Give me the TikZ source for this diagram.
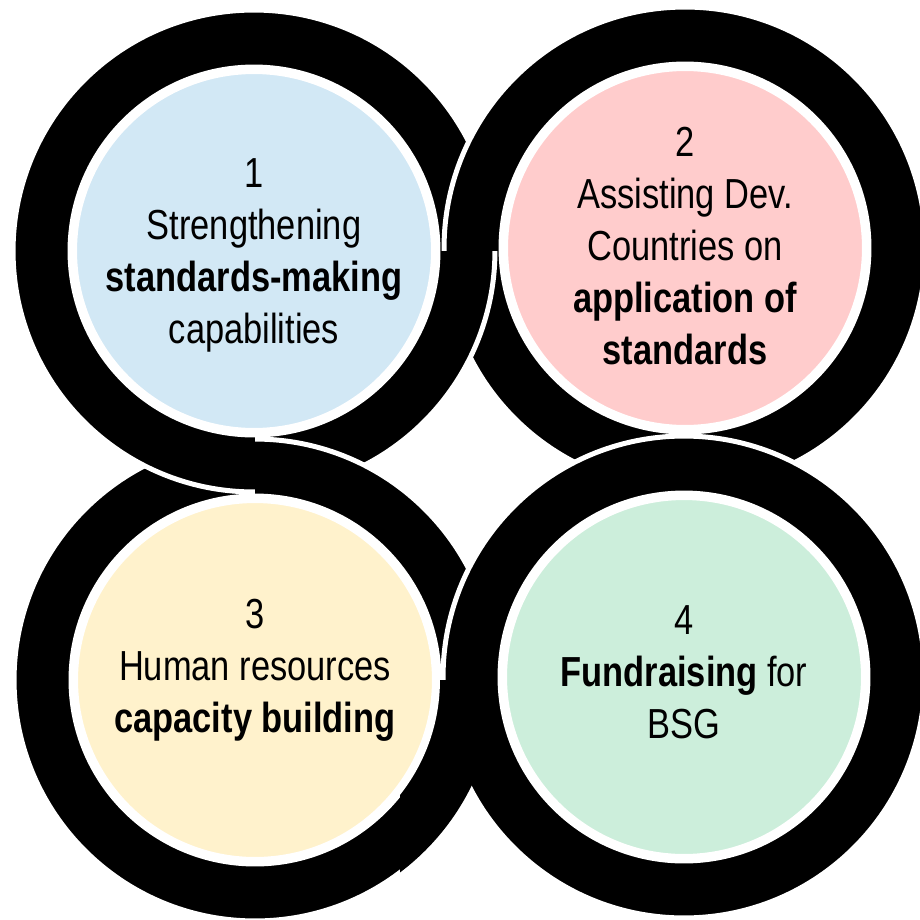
\documentclass[tikz,border=0pt]{standalone}
\usepackage{fontspec}
\setmainfont{Liberation Sans}[FakeStretch=0.82]
\definecolor{blueone}{RGB}{210,232,245}
\definecolor{pinktwo}{RGB}{255,204,204}
\definecolor{yellowthree}{RGB}{255,242,204}
\definecolor{greenfour}{RGB}{204,238,219}

\begin{document}
\begin{tikzpicture}
		[x=0.02cm, y=-0.02cm,
		ring/.style={fill=black, draw=white, line width=0.1cm, even odd rule},
		disc/.style={circle, draw=white, line width=0.16cm, minimum size=7.24cm, inner sep=0pt},
		txt/.style={align=center, font=\fontsize{23.9}{29.6}\selectfont}]
		\useasboundingbox (0,0) rectangle (920,920);
		\coordinate (c1) at (254,251);
		\coordinate (c2) at (685,248);
		\coordinate (c3) at (255,680);
		\coordinate (c4) at (684,677);

		\path[ring] (c3) circle[radius=4.82cm] (c3) circle[radius=3.68cm];
		\path[ring] (c1) circle[radius=4.82cm] (c1) circle[radius=3.68cm];
		\begin{scope}
			\clip (255,380) rectangle (480,560);
			\path[ring] (c3) circle[radius=4.82cm] (c3) circle[radius=3.68cm];
		\end{scope}
		\path[ring] (c2) circle[radius=4.82cm] (c2) circle[radius=3.68cm];
		\begin{scope}
			\clip (400,251) rectangle (520,440);
			\path[ring] (c1) circle[radius=4.82cm] (c1) circle[radius=3.68cm];
		\end{scope}
		\path[ring] (c4) circle[radius=4.82cm] (c4) circle[radius=3.68cm];
		\begin{scope}
			\clip (400,680) rectangle (520,920);
			\fill[even odd rule] (c3) circle[radius=4.82cm] (c3) circle[radius=3.68cm];
		\end{scope}

		\node[disc, fill=blueone] (d1) at (c1) {};
		\node[disc, fill=pinktwo] (d2) at (c2) {};
		\node[disc, fill=yellowthree] (d3) at (c3) {};
		\node[disc, fill=greenfour] (d4) at (c4) {};

		\node[txt] (t1) at ([yshift=-0.08cm]d1) {1\\Strengthening\\\textbf{standards-making}\\capabilities};
		\node[txt] (t2) at ([yshift=0.03cm]d2) {2\\Assisting Dev.\\Countries on\\\textbf{application of}\\\textbf{standards}};
		\node[txt] (t3) at ([yshift=0.2cm]d3) {3\\Human resources\\\textbf{capacity building}};
		\node[txt] (t4) at ([yshift=0.1cm]d4) {4\\\textbf{Fundraising} for\\BSG};
	\end{tikzpicture}
\end{document}
